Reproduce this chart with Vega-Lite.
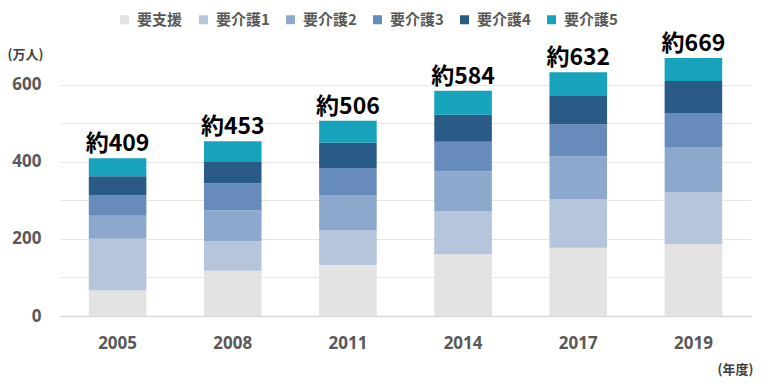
{
  "$schema": "https://vega.github.io/schema/vega-lite/v6.json",
  "autosize": {"type": "none"},
  "width": 691,
  "height": 270,
  "padding": {"left": 60, "top": 46, "right": 15, "bottom": 74},
  "background": "white",
  "config": {
    "view": {"stroke": null},
    "font": "Noto Sans CJK JP"
  },
  "datasets": {
    "levels": [
      {"year": "2005", "level": "要支援", "value": 66},
      {"year": "2005", "level": "要介護1", "value": 134},
      {"year": "2005", "level": "要介護2", "value": 60},
      {"year": "2005", "level": "要介護3", "value": 54},
      {"year": "2005", "level": "要介護4", "value": 48},
      {"year": "2005", "level": "要介護5", "value": 47},
      {"year": "2008", "level": "要支援", "value": 117},
      {"year": "2008", "level": "要介護1", "value": 77},
      {"year": "2008", "level": "要介護2", "value": 80},
      {"year": "2008", "level": "要介護3", "value": 70},
      {"year": "2008", "level": "要介護4", "value": 57},
      {"year": "2008", "level": "要介護5", "value": 52},
      {"year": "2011", "level": "要支援", "value": 132},
      {"year": "2011", "level": "要介護1", "value": 91},
      {"year": "2011", "level": "要介護2", "value": 91},
      {"year": "2011", "level": "要介護3", "value": 70},
      {"year": "2011", "level": "要介護4", "value": 65},
      {"year": "2011", "level": "要介護5", "value": 57},
      {"year": "2014", "level": "要支援", "value": 160},
      {"year": "2014", "level": "要介護1", "value": 111},
      {"year": "2014", "level": "要介護2", "value": 104},
      {"year": "2014", "level": "要介護3", "value": 77},
      {"year": "2014", "level": "要介護4", "value": 70},
      {"year": "2014", "level": "要介護5", "value": 62},
      {"year": "2017", "level": "要支援", "value": 177},
      {"year": "2017", "level": "要介護1", "value": 125},
      {"year": "2017", "level": "要介護2", "value": 112},
      {"year": "2017", "level": "要介護3", "value": 83},
      {"year": "2017", "level": "要介護4", "value": 75},
      {"year": "2017", "level": "要介護5", "value": 60},
      {"year": "2019", "level": "要支援", "value": 186},
      {"year": "2019", "level": "要介護1", "value": 135},
      {"year": "2019", "level": "要介護2", "value": 117},
      {"year": "2019", "level": "要介護3", "value": 88},
      {"year": "2019", "level": "要介護4", "value": 83},
      {"year": "2019", "level": "要介護5", "value": 60}
    ],
    "totals": [
      {"year": "2005", "total": 409, "label": "約409"},
      {"year": "2008", "total": 453, "label": "約453"},
      {"year": "2011", "total": 506, "label": "約506"},
      {"year": "2014", "total": 584, "label": "約584"},
      {"year": "2017", "total": 632, "label": "約632"},
      {"year": "2019", "total": 669, "label": "約669"}
    ]
  },
  "encoding": {
    "x": {
      "field": "year",
      "type": "nominal",
      "scale": {"paddingInner": 0.5, "paddingOuter": 0.25},
      "axis": {
        "title": "(年度)",
        "titleFont": "Noto Sans CJK JP",
        "titleFontSize": 13,
        "titleFontWeight": "bold",
        "titleColor": "#404040",
        "titleX": 675,
        "titleY": 53,
        "titleAlign": "center",
        "titleBaseline": "middle",
        "labelAngle": 0,
        "labelFont": "Noto Sans",
        "labelFontSize": 17,
        "labelFontWeight": "bold",
        "labelColor": "#595959",
        "labelPadding": 19,
        "ticks": false,
        "domainColor": "#d9d9d9",
        "domainWidth": 1.5
      }
    }
  },
  "layer": [
    {
      "data": {"name": "levels"},
      "transform": [
        {"calculate": "indexof(['要支援','要介護1','要介護2','要介護3','要介護4','要介護5'], datum.level)", "as": "rank"}
      ],
      "mark": {"type": "bar"},
      "encoding": {
        "y": {
          "field": "value",
          "type": "quantitative",
          "stack": "zero",
          "scale": {"domain": [0, 700], "nice": false},
          "axis": {
            "title": "(万人)",
            "titleFont": "Noto Sans CJK JP",
            "titleFontSize": 13,
            "titleFontWeight": "bold",
            "titleColor": "#404040",
            "titleAngle": 0,
            "titleX": -35,
            "titleY": 8,
            "titleAlign": "center",
            "titleBaseline": "middle",
            "values": [0, 100, 200, 300, 400, 500, 600],
            "labelExpr": "datum.value % 200 == 0 ? datum.label : ''",
            "labelFont": "Noto Sans",
            "labelFontSize": 17,
            "labelFontWeight": "bold",
            "labelColor": "#595959",
            "labelPadding": 19,
            "ticks": false,
            "domain": false,
            "gridColor": "#e6e6e6",
            "gridWidth": 1
          }
        },
        "color": {
          "field": "level",
          "type": "nominal",
          "scale": {
            "domain": ["要支援", "要介護1", "要介護2", "要介護3", "要介護4", "要介護5"],
            "range": ["#e3e3e1", "#b4c5dc", "#8ca8cc", "#678bba", "#2a5b87", "#17a3bb"]
          },
          "legend": {
            "title": null,
            "orient": "none",
            "direction": "horizontal",
            "legendX": 57,
            "legendY": -34,
            "symbolType": "square",
            "symbolSize": 81,
            "symbolStrokeWidth": 0,
            "labelFont": "Noto Sans CJK JP",
            "labelFontSize": 15,
            "labelFontWeight": "bold",
            "labelColor": "#595959",
            "labelOffset": 5,
            "columnPadding": 13
          }
        },
        "order": {"field": "rank", "type": "quantitative", "sort": "ascending"}
      }
    },
    {
      "data": {"name": "totals"},
      "mark": {
        "type": "text",
        "font": "Noto Sans CJK JP",
        "fontSize": 23,
        "fontWeight": "bold",
        "color": "#000000",
        "baseline": "alphabetic",
        "dy": -7
      },
      "encoding": {
        "y": {"field": "total", "type": "quantitative"},
        "text": {"field": "label", "type": "nominal"}
      }
    }
  ]
}
